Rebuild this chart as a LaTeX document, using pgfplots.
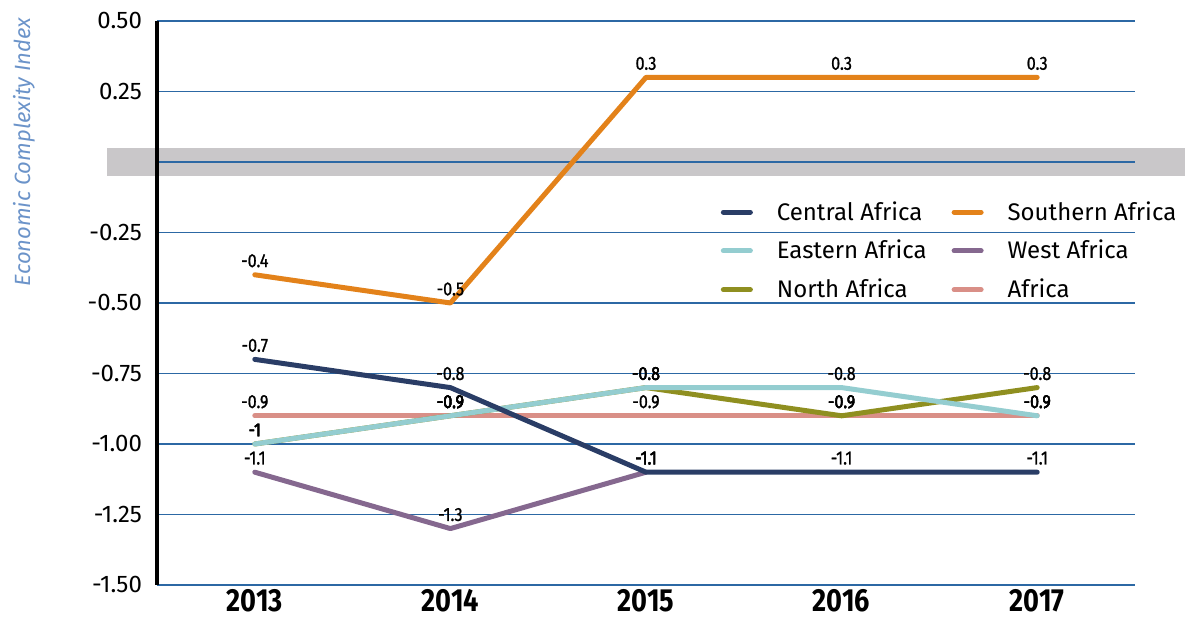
\documentclass[border=0pt]{standalone}
\usepackage{fontspec}
\setmainfont{Fira Sans}
\newfontfamily\cond{Fira Sans}[FakeStretch=0.85]
\newfontfamily\lab{Fira Sans}[FakeStretch=0.85, FakeBold=1]
\usepackage{pgfplots}
\usepackage{pgfplotstable}
\pgfplotsset{compat=1.18}

\definecolor{cnavy}{HTML}{2A3D66}
\definecolor{ccyan}{HTML}{94CDD0}
\definecolor{colive}{HTML}{8F8F20}
\definecolor{corange}{HTML}{E3821A}
\definecolor{cpurple}{HTML}{85688F}
\definecolor{csalmon}{HTML}{D98F87}
\definecolor{gridblue}{HTML}{2C68A4}
\definecolor{labblue}{HTML}{6B93C9}
\definecolor{bandgray}{HTML}{C9C7C9}

% x: 0=2013 ... 4=2017
\pgfplotstableread{
x y lab
0 -0.7 -0.7
1 -0.8 -0.8
2 -1.1 -1.1
3 -1.1 -1.1
4 -1.1 -1.1
}\central
\pgfplotstableread{
x y lab
0 -1.0 -1
1 -0.9 -0.9
2 -0.8 -0.8
3 -0.8 -0.8
4 -0.9 -0.9
}\eastern
\pgfplotstableread{
x y lab
0 -1.0 -1
1 -0.9 -0.9
2 -0.8 -0.8
3 -0.9 -0.9
4 -0.8 -0.8
}\north
\pgfplotstableread{
x y lab
0 -0.4 -0.4
1 -0.5 -0.5
2 0.3 0.3
3 0.3 0.3
4 0.3 0.3
}\southern
\pgfplotstableread{
x y lab
0 -1.1 -1.1
1 -1.3 -1.3
2 -1.1 -1.1
}\west
\pgfplotstableread{
x y lab
0 -0.9 -0.9
1 -0.9 -0.9
2 -0.9 -0.9
3 -0.9 -0.9
4 -0.9 -0.9
}\africa

\begin{document}
\begin{tikzpicture}
\begin{axis}[
  set layers,
  scale only axis,
  width=489pt, height=282pt,
  xmin=-0.5, xmax=4.5,
  ymin=-1.5, ymax=0.5,
  clip=false,
  axis line style={draw=none},
  major tick length=0pt,
  xtick={0,1,2,3,4},
  xticklabels={2013,2014,2015,2016,2017},
  x tick label style={font=\cond\bfseries\fontsize{16}{16}\selectfont, yshift=1.5pt},
  ytick={-1.5,-1.25,-1,-0.75,-0.5,-0.25,0,0.25,0.5},
  yticklabels={-1.50,-1.25,-1.00,-0.75,-0.50,-0.25,{},0.25,0.50},
  y tick label style={font=\fontsize{12}{12}\selectfont, xshift=-4pt},
  ymajorgrids,
  grid style={gridblue, line width=0.6pt},
  every axis plot/.append style={line width=2.5pt, line cap=round, line join=round, mark=none},
  every node near coord/.style={anchor=center, yshift=7pt, text=black, font=\lab\fontsize{9.5}{9.5}\selectfont},
  point meta=explicit symbolic,
  legend columns=2,
  legend cell align=left,
  legend style={draw=none, fill=none, at={(rel axis cs:0.570,0.695)}, anchor=north west,
    font=\fontsize{12}{12}\selectfont, row sep=4.5pt,
    /tikz/every even column/.append style={column sep=10.5pt}},
  legend image code/.code={\draw[line width=2.5pt, line cap=round] (0pt,0pt) -- (13.5pt,0pt);},
]
\begin{pgfonlayer}{axis background}
\fill[bandgray] ([xshift=-25pt]axis cs:-0.5,0.05) rectangle ([xshift=25pt]axis cs:4.5,-0.05);
\end{pgfonlayer}
\draw[black, line width=1.8pt] (rel axis cs:0,0) -- (rel axis cs:0,1);
\node[rotate=90, text=labblue, font=\itshape\fontsize{11}{11}\selectfont] at ([xshift=-66.5pt]rel axis cs:0,0.768) {Economic Complexity Index};

\addplot[csalmon, forget plot, nodes near coords] table[meta=lab] {\africa};
\addplot[colive, forget plot, nodes near coords] table[meta=lab] {\north};
\addplot[ccyan, forget plot, nodes near coords] table[meta=lab] {\eastern};
\addplot[cpurple, forget plot, nodes near coords] table[meta=lab] {\west};
\addplot[cnavy, forget plot, nodes near coords] table[meta=lab] {\central};
\addplot[corange, forget plot, nodes near coords] table[meta=lab] {\southern};

\addlegendimage{cnavy}\addlegendentry{\hspace{10pt}Central Africa}
\addlegendimage{corange}\addlegendentry{\hspace{10pt}Southern Africa}
\addlegendimage{ccyan}\addlegendentry{\hspace{10pt}Eastern Africa}
\addlegendimage{cpurple}\addlegendentry{\hspace{10pt}West Africa}
\addlegendimage{colive}\addlegendentry{\hspace{10pt}North Africa}
\addlegendimage{csalmon}\addlegendentry{\hspace{10pt}Africa}
\end{axis}
\pgfresetboundingbox
\path (-78.5pt,-17.5pt) rectangle (514pt,292.5pt);
\end{tikzpicture}
\end{document}
